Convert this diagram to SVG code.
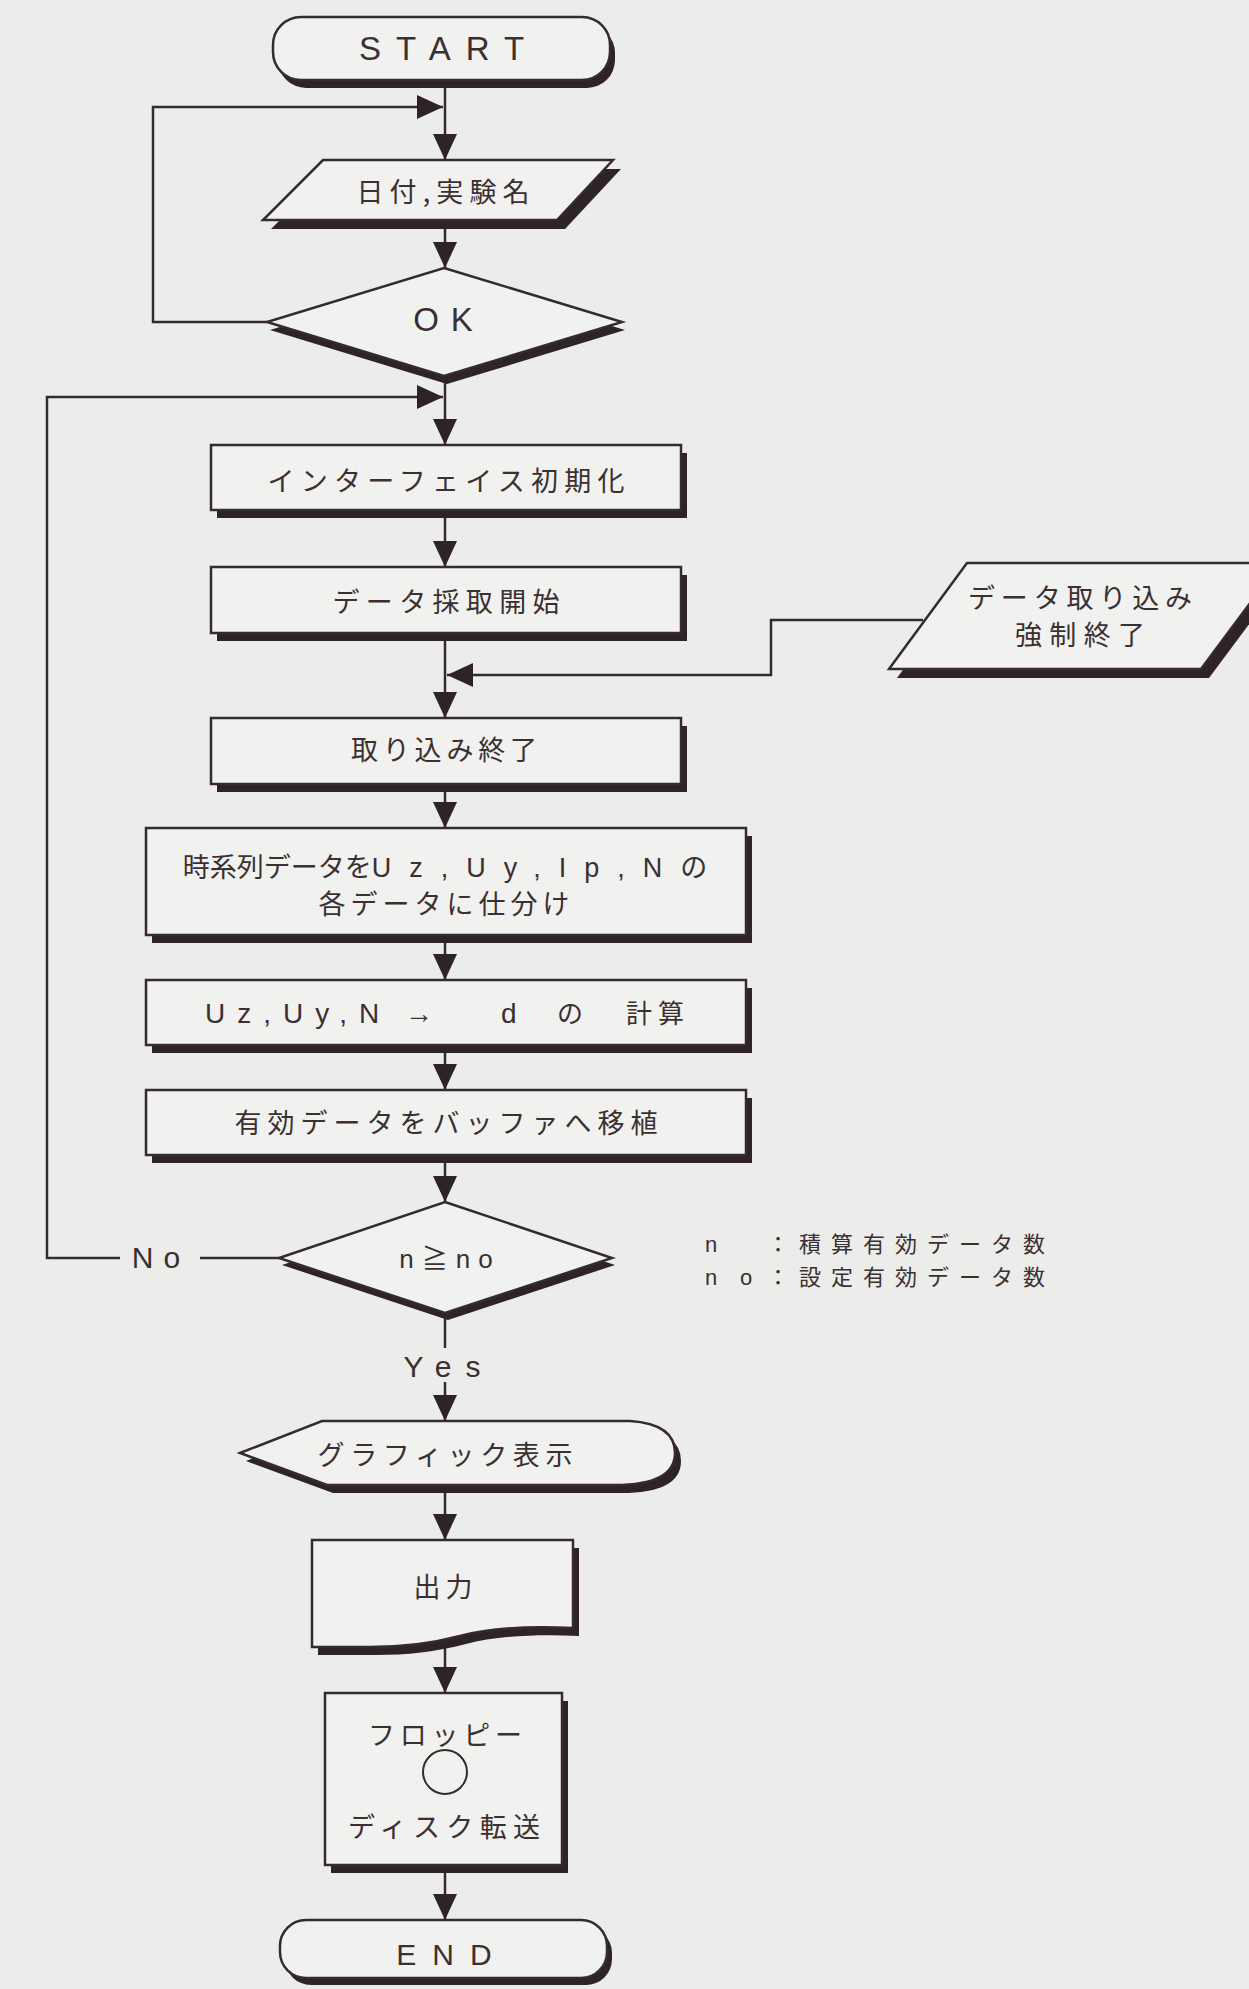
<svg xmlns="http://www.w3.org/2000/svg" width="1249" height="1989" viewBox="0 0 1249 1989">
<style>
.ln{fill:none;stroke:#352a2c;stroke-width:2.5}
.sh{fill:#2e2426;stroke:none}
.nd{fill:#f1f1ef;stroke:#352a2c;stroke-width:2.5}
.jp{font-family:"Noto Sans CJK JP",sans-serif;font-size:27px;fill:#3a3032;text-anchor:middle}
.en{font-family:"Liberation Sans","Noto Sans CJK JP",sans-serif;fill:#3a3032;text-anchor:middle}
</style>
<defs>
<marker id="ar" markerWidth="26" markerHeight="24" refX="26" refY="12" orient="auto" markerUnits="userSpaceOnUse"><path d="M0,0 L26,12 L0,24 Z" fill="#2e2426"/></marker>
</defs>
<rect width="1249" height="1989" fill="#ececea"/>

<g id="connectors">
<line class="ln" x1="445" y1="88" x2="445" y2="160" marker-end="url(#ar)"/>
<polyline class="ln" points="267,322 153,322 153,107 443,107" marker-end="url(#ar)"/>
<line class="ln" x1="445" y1="229" x2="445" y2="268" marker-end="url(#ar)"/>
<line class="ln" x1="445" y1="380" x2="445" y2="445" marker-end="url(#ar)"/>
<polyline class="ln" points="279,1258 200,1258"/>
<polyline class="ln" points="120,1258 47,1258 47,397 443,397" marker-end="url(#ar)"/>
<line class="ln" x1="445" y1="518" x2="445" y2="567" marker-end="url(#ar)"/>
<line class="ln" x1="445" y1="641" x2="445" y2="718" marker-end="url(#ar)"/>
<polyline class="ln" points="923,620 771,620 771,675 447,675" marker-end="url(#ar)"/>
<line class="ln" x1="445" y1="792" x2="445" y2="828" marker-end="url(#ar)"/>
<line class="ln" x1="445" y1="943" x2="445" y2="980" marker-end="url(#ar)"/>
<line class="ln" x1="445" y1="1053" x2="445" y2="1090" marker-end="url(#ar)"/>
<line class="ln" x1="445" y1="1163" x2="445" y2="1202" marker-end="url(#ar)"/>
<line class="ln" x1="445" y1="1318" x2="445" y2="1348"/>
<line class="ln" x1="445" y1="1382" x2="445" y2="1421" marker-end="url(#ar)"/>
<line class="ln" x1="445" y1="1493" x2="445" y2="1540" marker-end="url(#ar)"/>
<line class="ln" x1="445" y1="1643" x2="445" y2="1693" marker-end="url(#ar)"/>
<line class="ln" x1="445" y1="1873" x2="445" y2="1920" marker-end="url(#ar)"/>
<text class="en" x="161" y="1268" font-size="30" letter-spacing="10">No</text>
<text class="en" x="449" y="1377" font-size="30" letter-spacing="14">Yes</text>
</g>

<g id="start">
<rect class="sh" x="278" y="25" width="337" height="63" rx="28"/>
<rect class="nd" x="273" y="17" width="337" height="63" rx="28"/>
<text class="en" x="449" y="60" font-size="33" letter-spacing="15">START</text>
</g>

<g id="input-date">
<polygon class="sh" points="331,169 621,169 565,229 271,229"/>
<polygon class="nd" points="323,160 613,160 557,220 263,220"/>
<text class="jp" x="443" y="202" textLength="173" lengthAdjust="spacing">日付,実験名</text>
</g>

<g id="ok">
<polygon class="sh" points="447,276 625,330 447,384 270,330"/>
<polygon class="nd" points="444,268 622,322 444,376 267,322"/>
<text class="en" x="449" y="331" font-size="33" letter-spacing="12">OK</text>
</g>

<g id="init">
<rect class="sh" x="217" y="453" width="470" height="65"/>
<rect class="nd" x="211" y="445" width="470" height="65"/>
<text class="jp" x="446" y="491" textLength="357" lengthAdjust="spacing">インターフェイス初期化</text>
</g>

<g id="acq-start">
<rect class="sh" x="217" y="575" width="470" height="66"/>
<rect class="nd" x="211" y="567" width="470" height="66"/>
<text class="jp" x="446" y="612" textLength="227" lengthAdjust="spacing">データ採取開始</text>
</g>

<g id="force-stop">
<polygon class="sh" points="975,572 1288,572 1209,678 897,678"/>
<polygon class="nd" points="967,563 1280,563 1201,669 889,669"/>
<text class="jp" x="1080" y="608" font-size="25" textLength="224" lengthAdjust="spacing">データ取り込み</text>
<text class="jp" x="1080" y="645" font-size="25" textLength="130" lengthAdjust="spacing">強制終了</text>
</g>

<g id="acq-end">
<rect class="sh" x="217" y="726" width="470" height="66"/>
<rect class="nd" x="211" y="718" width="470" height="66"/>
<text class="jp" x="444" y="760" textLength="186" lengthAdjust="spacing">取り込み終了</text>
</g>

<g id="split">
<rect class="sh" x="152" y="836" width="600" height="107"/>
<rect class="nd" x="146" y="828" width="600" height="107"/>
<text class="jp" x="445" y="877" font-size="25"><tspan>時系列データを</tspan><tspan font-family="Liberation Sans" font-size="27" letter-spacing="18">Uz,Uy,Ip,N</tspan><tspan>の</tspan></text>
<text class="jp" x="444" y="914" font-size="25" textLength="251" lengthAdjust="spacing">各データに仕分け</text>
</g>

<g id="calc">
<rect class="sh" x="152" y="988" width="600" height="65"/>
<rect class="nd" x="146" y="980" width="600" height="65"/>
<text class="en" font-size="28" y="1023" style="text-anchor:start"><tspan x="205" letter-spacing="12">Uz,Uy,N</tspan><tspan> </tspan><tspan x="405">→</tspan><tspan> </tspan><tspan x="501">d</tspan><tspan> </tspan><tspan x="557" font-family="Noto Sans CJK JP" font-size="26">の</tspan><tspan> </tspan><tspan x="626" font-family="Noto Sans CJK JP" font-size="26" letter-spacing="6">計算</tspan></text>
</g>

<g id="buffer">
<rect class="sh" x="152" y="1098" width="600" height="65"/>
<rect class="nd" x="146" y="1090" width="600" height="65"/>
<text class="jp" x="446" y="1133" textLength="423" lengthAdjust="spacing">有効データをバッファへ移植</text>
</g>

<g id="check">
<polygon class="sh" points="448,1209 615,1265 448,1320 282,1265"/>
<polygon class="nd" points="445,1202 612,1258 445,1313 279,1258"/>
<text class="en" x="450" y="1268" font-size="26" letter-spacing="8">n≧no</text>
</g>

<g id="legend">
<text class="en" font-size="22" y="1252" style="text-anchor:start"><tspan x="705">n</tspan><tspan x="767" font-family="Noto Sans CJK JP" letter-spacing="10">：積算有効データ数</tspan></text>
<text class="en" font-size="22" y="1285" style="text-anchor:start"><tspan x="705">n</tspan><tspan x="740">o</tspan><tspan x="767" font-family="Noto Sans CJK JP" letter-spacing="10">：設定有効データ数</tspan></text>
</g>

<g id="display">
<path class="sh" d="M246,1461 L328,1429 L636,1429 Q681,1432 681,1461 Q681,1493 621,1493 L333,1493 Z"/>
<path class="nd" d="M240,1453 L322,1421 L630,1421 Q675,1424 675,1453 Q675,1485 615,1485 L327,1485 Z"/>
<text class="jp" x="445" y="1465" textLength="255" lengthAdjust="spacing">グラフィック表示</text>
</g>

<g id="output">
<path class="sh" d="M318,1548 H579 V1636 C536,1634 496,1636 466,1644 C436,1652 406,1655 376,1655 H318 Z"/>
<path class="nd" d="M312,1540 H573 V1628 C530,1626 490,1628 460,1636 C430,1644 400,1647 370,1647 H312 Z"/>
<text class="jp" x="443" y="1597" textLength="59" lengthAdjust="spacing">出力</text>
</g>

<g id="floppy">
<rect class="sh" x="331" y="1701" width="237" height="172"/>
<rect class="nd" x="325" y="1693" width="237" height="172"/>
<text class="jp" x="445" y="1745" textLength="154" lengthAdjust="spacing">フロッピー</text>
<circle cx="445" cy="1772" r="22" fill="none" stroke="#352a2c" stroke-width="2"/>
<text class="jp" x="444" y="1837" textLength="192" lengthAdjust="spacing">ディスク転送</text>
</g>

<g id="end">
<rect class="sh" x="285" y="1927" width="327" height="58" rx="26"/>
<rect class="nd" x="280" y="1920" width="327" height="58" rx="26"/>
<text class="en" x="452" y="1965" font-size="30" letter-spacing="16">END</text>
</g>
</svg>
